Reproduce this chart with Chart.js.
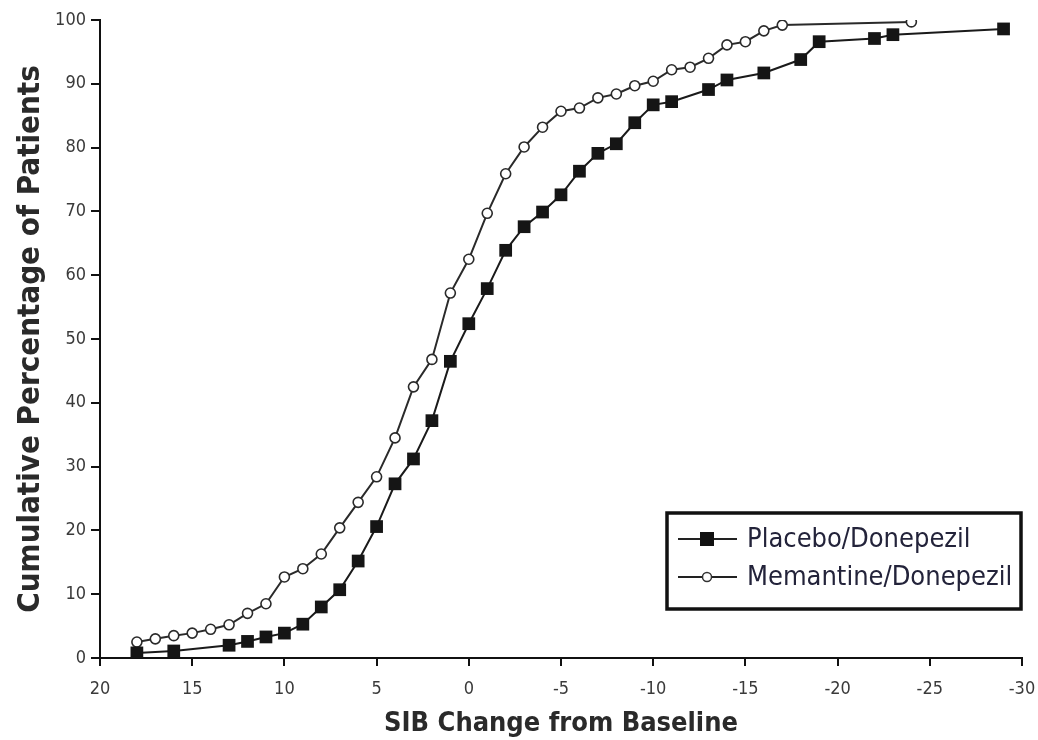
<!DOCTYPE html>
<html>
<head>
<meta charset="utf-8">
<script src="https://cdn.jsdelivr.net/npm/chart.js@4.4.1/dist/chart.umd.min.js"></script>
<style>
  html, body { margin: 0; padding: 0; background: #fff; }
  #wrap { width: 1038px; height: 740px; position: relative; }
</style>
</head>
<body>
<div id="wrap"><canvas id="c" width="1038" height="740"></canvas></div>
<script>
// ---- Data ----
const seriesNames = ['Placebo/Donepezil', 'Memantine/Donepezil'];

const placeboX = [18, 16, 13, 12, 11, 10, 9, 8, 7, 6, 5, 4, 3, 2, 1, 0, -1, -2, -3, -4, -5, -6, -7, -8, -9, -10, -11, -13, -14, -16, -18, -19, -22, -23, -29];
const placeboY = [0.8, 1.1, 2.0, 2.6, 3.3, 3.9, 5.3, 8.0, 10.7, 15.2, 20.6, 27.3, 31.2, 37.2, 46.5, 52.4, 57.9, 63.9, 67.6, 69.9, 72.6, 76.3, 79.1, 80.6, 83.9, 86.7, 87.2, 89.1, 90.6, 91.7, 93.8, 96.6, 97.1, 97.7, 98.6];

const memantineX = [18, 17, 16, 15, 14, 13, 12, 11, 10, 9, 8, 7, 6, 5, 4, 3, 2, 1, 0, -1, -2, -3, -4, -5, -6, -7, -8, -9, -10, -11, -12, -13, -14, -15, -16, -17, -24];
const memantineY = [2.5, 3.0, 3.5, 3.9, 4.5, 5.2, 7.0, 8.5, 12.7, 14.0, 16.3, 20.4, 24.4, 28.4, 34.5, 42.5, 46.8, 57.2, 62.5, 69.7, 75.9, 80.1, 83.2, 85.7, 86.2, 87.8, 88.4, 89.7, 90.4, 92.2, 92.6, 94.0, 96.1, 96.6, 98.3, 99.2, 99.7];

const xTicks = [20, 15, 10, 5, 0, -5, -10, -15, -20, -25, -30];
const yTicks = [0, 10, 20, 30, 40, 50, 60, 70, 80, 90, 100];
const xTitle = 'SIB Change from Baseline';
const yTitle = 'Cumulative Percentage of Patients';

const toPts = (xs, ys) => xs.map((x, i) => ({ x: x, y: ys[i] }));

const NARROW = '"Liberation Sans Narrow", "Arial Narrow", "DejaVu Sans Condensed", sans-serif';

// Custom boxed legend drawn inside the plot
const boxLegend = {
  id: 'boxLegend',
  afterDraw(chart) {
    const ctx = chart.ctx;
    const bx = 667, by = 513, bw = 354, bh = 96;
    ctx.save();
    ctx.fillStyle = '#fff';
    ctx.fillRect(bx, by, bw, bh);
    ctx.lineWidth = 3.5;
    ctx.strokeStyle = '#111';
    ctx.strokeRect(bx, by, bw, bh);
    const rows = [by + 26, by + 64];
    chart.data.datasets.forEach((ds, i) => {
      const yy = rows[i];
      ctx.beginPath();
      ctx.lineWidth = 2;
      ctx.strokeStyle = '#222';
      ctx.moveTo(bx + 11, yy);
      ctx.lineTo(bx + 70, yy);
      ctx.stroke();
      const mx = bx + 40;
      if (ds.pointStyle === 'rect') {
        ctx.fillStyle = '#111';
        ctx.fillRect(mx - 7, yy - 7, 14, 14);
      } else {
        ctx.beginPath();
        ctx.arc(mx, yy, 4.5, 0, Math.PI * 2);
        ctx.fillStyle = '#fff';
        ctx.fill();
        ctx.lineWidth = 1.5;
        ctx.strokeStyle = '#333';
        ctx.stroke();
      }
      ctx.fillStyle = '#23233a';
      ctx.font = '27px ' + NARROW;
      ctx.textBaseline = 'middle';
      ctx.textAlign = 'left';
      ctx.fillText(ds.label, bx + 80, yy + 1);
    });
    ctx.restore();
  }
};

new Chart(document.getElementById('c'), {
  type: 'line',
  data: {
    datasets: [
      {
        label: seriesNames[0],
        data: toPts(placeboX, placeboY),
        borderColor: '#1a1a1a',
        borderWidth: 2,
        pointStyle: 'rect',
        pointRadius: 9,
        pointBackgroundColor: '#151515',
        pointBorderColor: '#151515',
        pointBorderWidth: 0,
        tension: 0,
        fill: false
      },
      {
        label: seriesNames[1],
        data: toPts(memantineX, memantineY),
        borderColor: '#2a2a2a',
        borderWidth: 2,
        pointStyle: 'circle',
        pointRadius: 5,
        pointBackgroundColor: '#ffffff',
        pointBorderColor: '#2a2a2a',
        pointBorderWidth: 1.6,
        tension: 0,
        fill: false
      }
    ]
  },
  options: {
    responsive: false,
    animation: false,
    layout: { padding: { left: 0, right: 16, top: 20, bottom: 0 } },
    plugins: {
      legend: { display: false },
      tooltip: { enabled: false }
    },
    scales: {
      x: {
        type: 'linear',
        min: -30,
        max: 20,
        reverse: true,
        afterFit(scale) {
          scale.height = 82;
          scale.paddingLeft = 0;
          scale.paddingRight = 0;
        },
        afterBuildTicks(scale) { scale.ticks = xTicks.map(v => ({ value: v })); },
        border: { display: true, color: '#111', width: 2 },
        grid: { display: true, drawOnChartArea: false, drawTicks: true, tickLength: 8, color: '#111', lineWidth: 2 },
        ticks: {
          color: '#3a3a3a',
          font: { family: NARROW, size: 18 },
          padding: 13,
          maxRotation: 0,
          autoSkip: false
        },
        title: {
          display: true,
          text: xTitle,
          color: '#2a2a2a',
          font: { family: NARROW, size: 27, weight: 'bold' },
          padding: { top: 0, bottom: 0 }
        }
      },
      y: {
        type: 'linear',
        min: 0,
        max: 100,
        afterFit(scale) {
          scale.width = 100;
          scale.paddingTop = 0;
          scale.paddingBottom = 0;
        },
        afterBuildTicks(scale) { scale.ticks = yTicks.map(v => ({ value: v })); },
        border: { display: true, color: '#111', width: 2 },
        grid: { display: true, drawOnChartArea: false, drawTicks: true, tickLength: 9, color: '#111', lineWidth: 2 },
        ticks: {
          color: '#3a3a3a',
          font: { family: NARROW, size: 18 },
          padding: 5,
          autoSkip: false
        },
        title: {
          display: true,
          text: yTitle,
          color: '#2a2a2a',
          font: { family: NARROW, size: 31, weight: 'bold' },
          padding: { top: 12, bottom: 0 }
        }
      }
    }
  },
  plugins: [boxLegend]
});
</script>
</body>
</html>
